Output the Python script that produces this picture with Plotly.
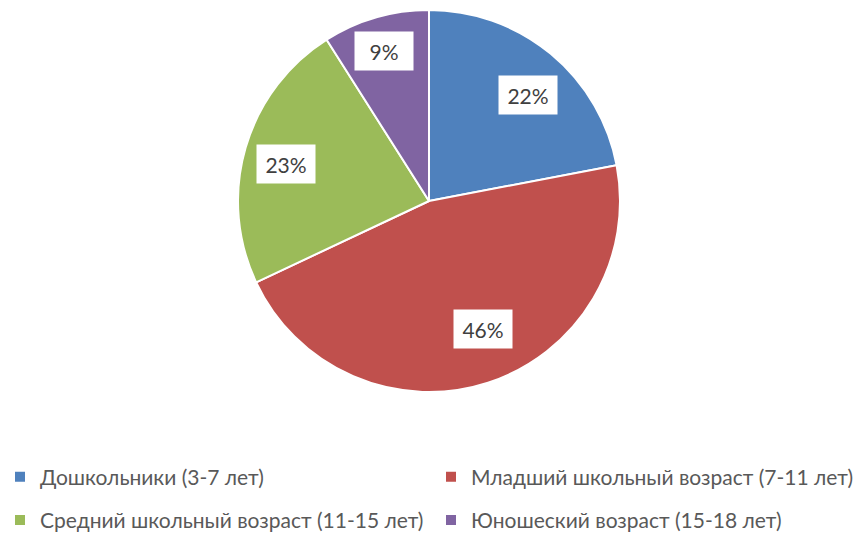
import math
import plotly.graph_objects as go

categories = ["Дошкольники (3-7 лет)", "Младший школьный возраст (7-11 лет)",
              "Средний школьный возраст (11-15 лет)", "Юношеский возраст (15-18 лет)"]
values = [22, 46, 23, 9]
colors = ["#4F81BD", "#C0504D", "#9BBB59", "#8064A2"]

FONT = "Lato, 'Open Sans', sans-serif"
W, H = 859, 535
cx, cy, R = 429, 201, 191
dom_x = [(cx - R) / W, (cx + R) / W]
dom_y = [(H - cy - R) / H, (H - cy + R) / H]

legend_labels = [f'<span style="font-size:21px;baseline-shift:4px">{c}</span>' for c in categories]

fig = go.Figure(go.Pie(
    labels=legend_labels, values=values, sort=False, direction="clockwise", rotation=0,
    marker=dict(colors=colors, line=dict(color="white", width=2)),
    textinfo="none", hoverinfo="percent",
    domain=dict(x=dom_x, y=dom_y),
))

# label boxes placed along slice mid-angle (with small "best fit" nudges)
total = sum(values)
cum = 0
rfrac = [0.76, 0.73, 0.775, 0.82]
anudge = [-3.4, 5.0, 1.7, 0.6]
for v, rf, da in zip(values, rfrac, anudge):
    mid = 90 - (cum + v / 2) / total * 360 + da
    cum += v
    px = cx + rf * R * math.cos(math.radians(mid))
    py = cy - rf * R * math.sin(math.radians(mid))
    fig.add_annotation(x=px / W, y=1 - py / H, xref="paper", yref="paper",
                       xanchor="center", yanchor="middle",
                       text=f"{v}%", showarrow=False, bgcolor="white",
                       width=46, height=26, borderpad=6,
                       font=dict(size=21, color="#404040", family=FONT))

fig.update_layout(
    width=W, height=H, margin=dict(l=0, r=0, t=0, b=0, autoexpand=False),
    paper_bgcolor="white", plot_bgcolor="white",
    font=dict(family=FONT, color="#595959"),
    legend=dict(orientation="h", x=0.0, y=1 - 450 / H, xanchor="left", yanchor="top",
                entrywidth=386, entrywidthmode="pixels", bgcolor="rgba(0,0,0,0)",
                font=dict(size=31, color="#595959", family=FONT)),
    showlegend=True,
)
fig.write_html("out.html", config={"displayModeBar": False},
               post_script="document.body.style.margin='0';")
